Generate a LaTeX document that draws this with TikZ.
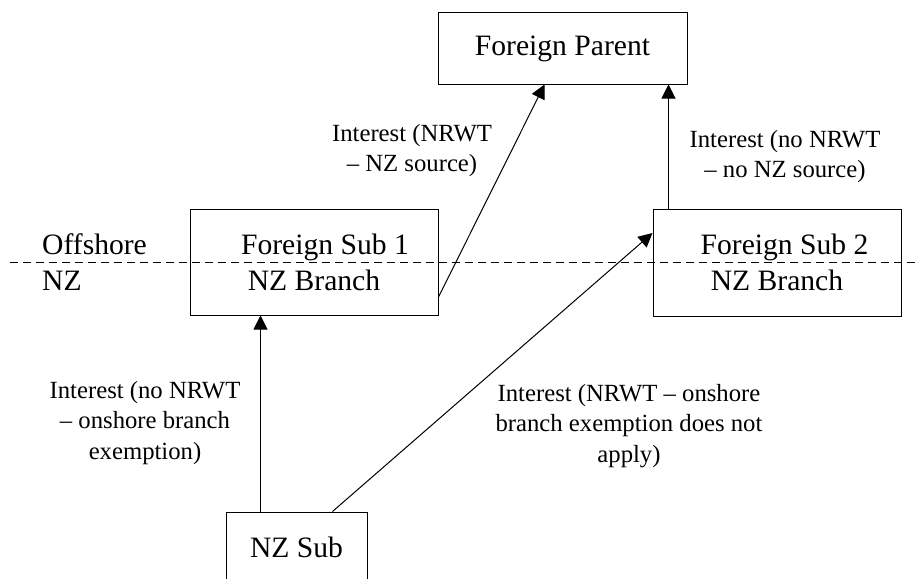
\documentclass[tikz,border=0pt]{standalone}
\usepackage{fontspec}
\setmainfont{Liberation Serif}
\usetikzlibrary{arrows.meta}
\newcommand\dgboxfont{\fontsize{29.6}{36}\selectfont}
\newcommand\dglblfont{\fontsize{24.7}{30.5}\selectfont}
\begin{document}
\begin{tikzpicture}[x=1pt,y=-1pt,
  box/.style={draw, line width=1pt, inner sep=0pt, align=center, font=\dgboxfont},
  lbl/.style={inner sep=0pt, align=center, font=\dglblfont},
  side/.style={inner sep=0pt, anchor=base west, font=\dgboxfont},
  arr/.style={line width=1pt, -{Triangle[length=14pt,width=14pt]}},
  divider/.style={line width=1pt, dash pattern=on 8pt off 5pt}]
\useasboundingbox (0,0) rectangle (920,578);
% boxes
\node[box, minimum width=249pt, minimum height=71pt] (fp) at (562.5,48.5) {Foreign Parent};
\node[box, minimum width=248pt, minimum height=106pt] (fs1) at (314,262) {\hspace*{22pt}Foreign Sub 1\\NZ Branch};
\node[box, minimum width=248pt, minimum height=107pt] (fs2) at (777,262.5) {\hspace*{15pt}Foreign Sub 2\\NZ Branch};
\node[box, minimum width=141pt, minimum height=70pt] (nzs) at (296.5,547) {NZ Sub};
% divider
\coordinate (dl) at (10,262);
\coordinate (dr) at (920,262);
\draw[divider] (dl) -- (dr);
\node[side] (off) at (42,254) {Offshore};
\node[side] (nz) at (42,290) {NZ};
% connectors
\draw[arr] ([xshift=35pt]nzs.north west) -- ([xshift=71pt]fs1.south west);
\draw[arr] ([xshift=107pt]nzs.north west) -- ([yshift=29.5pt]fs2.west);
\draw[arr] ([yshift=-35pt]fs1.east) -- ([xshift=107pt]fp.south west);
\draw[arr] ([xshift=16pt]fs2.north west) -- ([xshift=231pt]fp.south west);
% labels
\node[lbl] (l1) at (412,150.5) {Interest (NRWT\\– NZ source)};
\node[lbl] (l2) at (785,156.5) {Interest (no NRWT\\– no NZ source)};
\node[lbl] (l3) at (145,423) {Interest (no NRWT\\– onshore branch\\exemption)};
\node[lbl] (l4) at (629,426) {Interest (NRWT – onshore\\branch exemption does not\\apply)};
\end{tikzpicture}
\end{document}
